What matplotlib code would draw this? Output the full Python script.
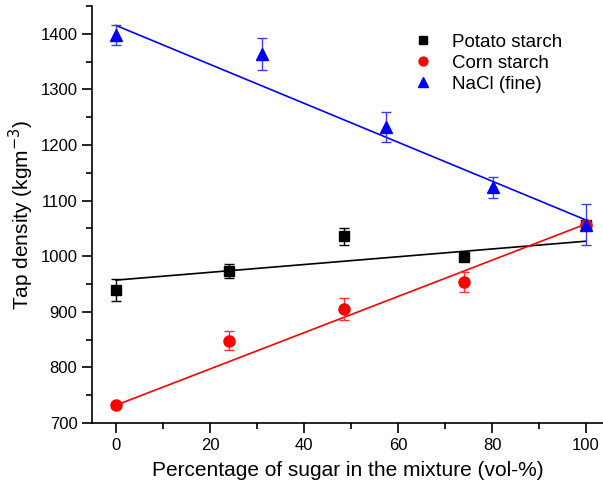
import matplotlib
matplotlib.use("Agg")
import numpy as np
import matplotlib.pyplot as plt
from matplotlib.ticker import MultipleLocator

plt.rcParams['font.family'] = ['Liberation Sans', 'DejaVu Sans']

# data
potato_x = [0, 24, 48.5, 74, 100]
potato_y = [939, 973, 1036, 999, 1057]
potato_err = [20, 13, 15, 6, 0]

corn_x = [0, 24, 48.5, 74, 100]
corn_y = [732, 848, 905, 954, 1057]
corn_err = [5, 17, 20, 18, 0]

nacl_x = [0, 31, 57.5, 80.2, 100]
nacl_y = [1398, 1364, 1232, 1124, 1057]
nacl_err = [18, 29, 27, 19, 37]

# fitted lines (intercept, slope)
potato_fit = (957, 0.70)
corn_fit = (732, 3.26)
nacl_fit = (1415, -3.50)

fig = plt.figure(figsize=(6.03, 4.91), dpi=100)
ax = fig.add_axes([92 / 603, 68 / 491, 511 / 603, 417 / 491])

xf = np.array([0, 100])
ax.plot(xf, potato_fit[0] + potato_fit[1] * xf, color='black', lw=1.2, zorder=2)
ax.plot(xf, corn_fit[0] + corn_fit[1] * xf, color='red', lw=1.2, zorder=2)
ax.plot(xf, nacl_fit[0] + nacl_fit[1] * xf, color='blue', lw=1.2, zorder=2)

ax.errorbar(potato_x, potato_y, yerr=potato_err, fmt='s', color='black',
            ms=7, capsize=3.5, elinewidth=1, capthick=1, label='Potato starch', zorder=3)
ax.errorbar(corn_x, corn_y, yerr=corn_err, fmt='o', color='red', ecolor='#ff3030',
            ms=8, capsize=3.5, elinewidth=1, capthick=1, label='Corn starch', zorder=3)
ax.errorbar(nacl_x, nacl_y, yerr=nacl_err, fmt='^', color='blue', ecolor='#3b3bf0',
            ms=9, capsize=3.5, elinewidth=1, capthick=1, label='NaCl (fine)', zorder=4)

ax.set_xlim(-5.1, 103.6)
ax.set_ylim(700, 1450)
ax.xaxis.set_major_locator(MultipleLocator(20))
ax.xaxis.set_minor_locator(MultipleLocator(10))
ax.yaxis.set_major_locator(MultipleLocator(100))
ax.yaxis.set_minor_locator(MultipleLocator(50))
ax.tick_params(which='major', direction='out', length=7, width=1.2, labelsize=12)
ax.tick_params(which='minor', direction='out', length=4, width=1.2)
for s in ['top', 'right']:
    ax.spines[s].set_visible(False)
for s in ['left', 'bottom']:
    ax.spines[s].set_linewidth(1.2)

ax.set_xlabel('Percentage of sugar in the mixture (vol-%)', fontsize=15, labelpad=6)
ax.set_ylabel('Tap density (kgm$^{-3}$)', fontsize=15, labelpad=3)

handles, labels = ax.get_legend_handles_labels()
handles = [h[0] for h in handles]
ax.legend(handles, labels, loc='upper left', bbox_to_anchor=(398 / 603, 1 - 17 / 491),
          bbox_transform=fig.transFigure, frameon=False, fontsize=13.5,
          handlelength=0.9, handletextpad=1.1, labelspacing=0.2, markerscale=0.8)

fig.savefig('out.png', dpi=100)
